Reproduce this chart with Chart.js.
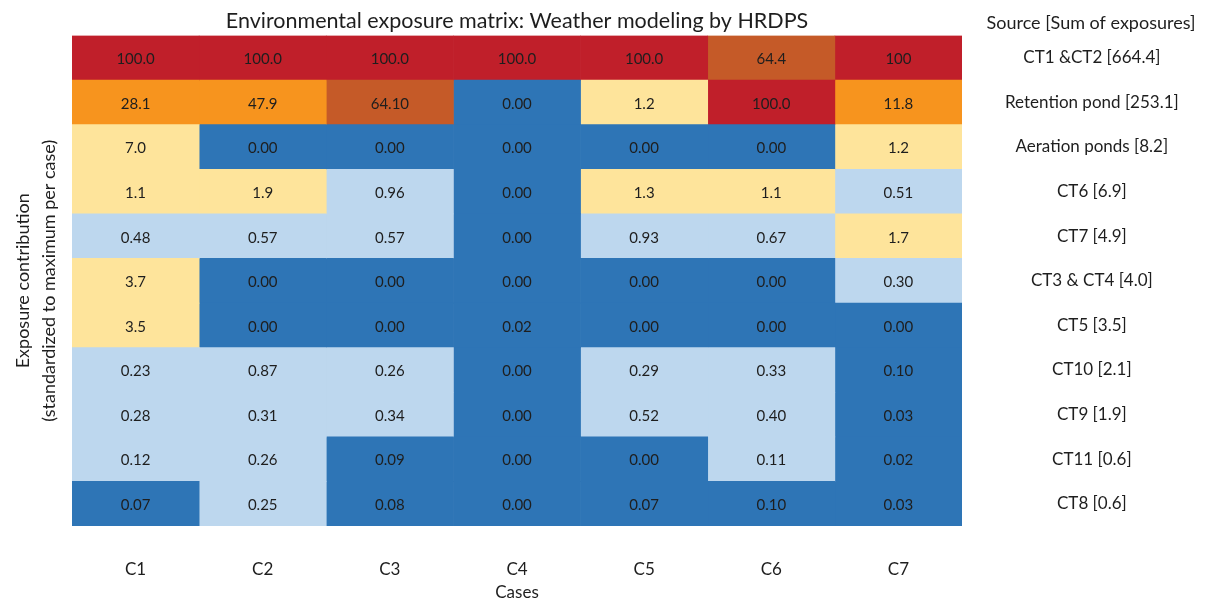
<!DOCTYPE html>
<html>
<head>
<meta charset="utf-8">
<script src="https://cdn.jsdelivr.net/npm/chart.js@4"></script>
<style>
  html, body { margin: 0; padding: 0; background: #fff; }
  #wrap { width: 1206px; height: 605px; position: relative; }
</style>
</head>
<body>
<div id="wrap"><canvas id="matrix"></canvas></div>
<script>
// --- DATA ---
const cases = ['C1', 'C2', 'C3', 'C4', 'C5', 'C6', 'C7'];
const sources = ['CT1 &CT2', 'Retention pond', 'Aeration ponds', 'CT6', 'CT7', 'CT3 & CT4', 'CT5', 'CT10', 'CT9', 'CT11', 'CT8'];
const sourceSums = ['664.4', '253.1', '8.2', '6.9', '4.9', '4.0', '3.5', '2.1', '1.9', '0.6', '0.6'];

// cell text per source, columns C1..C7
const rowCT1CT2    = ['100.0', '100.0', '100.0', '100.0', '100.0', '64.4', '100'];
const rowRetention = ['28.1', '47.9', '64.10', '0.00', '1.2', '100.0', '11.8'];
const rowAeration  = ['7.0', '0.00', '0.00', '0.00', '0.00', '0.00', '1.2'];
const rowCT6       = ['1.1', '1.9', '0.96', '0.00', '1.3', '1.1', '0.51'];
const rowCT7       = ['0.48', '0.57', '0.57', '0.00', '0.93', '0.67', '1.7'];
const rowCT3CT4    = ['3.7', '0.00', '0.00', '0.00', '0.00', '0.00', '0.30'];
const rowCT5       = ['3.5', '0.00', '0.00', '0.02', '0.00', '0.00', '0.00'];
const rowCT10      = ['0.23', '0.87', '0.26', '0.00', '0.29', '0.33', '0.10'];
const rowCT9       = ['0.28', '0.31', '0.34', '0.00', '0.52', '0.40', '0.03'];
const rowCT11      = ['0.12', '0.26', '0.09', '0.00', '0.00', '0.11', '0.02'];
const rowCT8       = ['0.07', '0.25', '0.08', '0.00', '0.07', '0.10', '0.03'];

const rows = [rowCT1CT2, rowRetention, rowAeration, rowCT6, rowCT7, rowCT3CT4, rowCT5, rowCT10, rowCT9, rowCT11, rowCT8];

// --- STYLE ---
const FONT = 'Lato, "Noto Sans", sans-serif';
const TEXT = '#1e1e1e';

function cellColor(v) {
    if (v >= 90) return '#c01f2a';
    if (v >= 50) return '#c55a28';
    if (v >= 10) return '#f7941e';
    if (v >= 1) return '#fee49b';
    if (v > 0.105) return '#bdd7ee';
    return '#2e75b6';
}

const datasets = cases.map((c, ci) => ({
    label: c,
    data: rows.map(r => [ci, ci + 1]),
    cellText: rows.map(r => r[ci]),
    backgroundColor: rows.map(r => cellColor(parseFloat(r[ci]))),
    borderWidth: 0,
    borderSkipped: false,
    barPercentage: 1,
    categoryPercentage: 1,
    grouped: false,
}));

// cell values + headings
const matrixText = {
    id: 'matrixText',
    afterDatasetsDraw(chart) {
        const ctx = chart.ctx;
        ctx.save();
        ctx.textAlign = 'center';
        ctx.textBaseline = 'middle';
        ctx.fillStyle = TEXT;
        ctx.font = '15px ' + FONT;
        chart.data.datasets.forEach((ds, di) => {
            chart.getDatasetMeta(di).data.forEach((bar, i) => {
                const p = bar.getCenterPoint();
                ctx.fillText(ds.cellText[i], p.x, p.y + 1.5);
            });
        });
        const area = chart.chartArea;
        ctx.font = '21.5px ' + FONT;
        ctx.fillText('Environmental exposure matrix: Weather modeling by HRDPS', (area.left + area.right) / 2, 21);
        ctx.font = '18px ' + FONT;
        ctx.fillText('Source [Sum of exposures]', 1091, 23);
        ctx.restore();
    }
};

new Chart(document.getElementById('matrix'), {
    type: 'bar',
    data: {
        labels: sources.map((s, i) => `${s} [${sourceSums[i]}]`),
        datasets
    },
    options: {
        indexAxis: 'y',
        responsive: true,
        maintainAspectRatio: false,
        animation: false,
        layout: { padding: { top: 35.5, left: 0, right: 0, bottom: 0 } },
        plugins: {
            legend: { display: false },
            tooltip: { enabled: false },
            title: { display: false }
        },
        scales: {
            x: {
                type: 'linear',
                min: 0, max: 7,
                grid: { display: false, drawTicks: false },
                border: { display: false },
                afterBuildTicks: s => { s.ticks = cases.map((c, i) => ({ value: i + 0.5 })); },
                afterFit: s => { s.height = 79; s.paddingLeft = 0; s.paddingRight = 0; },
                ticks: {
                    padding: 33,
                    color: TEXT,
                    font: { family: FONT, size: 17 },
                    callback: v => cases[Math.round(v - 0.5)]
                },
                title: {
                    display: true,
                    text: 'Cases',
                    color: TEXT,
                    font: { family: FONT, size: 17 },
                    padding: { top: 0, bottom: 2 }
                }
            },
            y: {
                type: 'category',
                position: 'right',
                grid: { display: false, drawTicks: false },
                border: { display: false },
                afterFit: s => { s.width = 244; s.paddingTop = 0; s.paddingBottom = 0; },
                ticks: {
                    crossAlign: 'center',
                    padding: 43,
                    color: TEXT,
                    font: { family: FONT, size: 17 }
                }
            },
            yl: {
                type: 'category',
                position: 'left',
                labels: sources,
                grid: { display: false, drawTicks: false },
                border: { display: false },
                ticks: { display: false },
                afterFit: s => { s.width = 72; s.paddingTop = 0; s.paddingBottom = 0; },
                title: {
                    display: true,
                    text: ['Exposure contribution', '(standardized to maximum per case)'],
                    color: TEXT,
                    font: { family: FONT, size: 18, lineHeight: 1.4 },
                    padding: { top: 11, bottom: 0 }
                }
            }
        }
    },
    plugins: [matrixText]
});
</script>
</body>
</html>
